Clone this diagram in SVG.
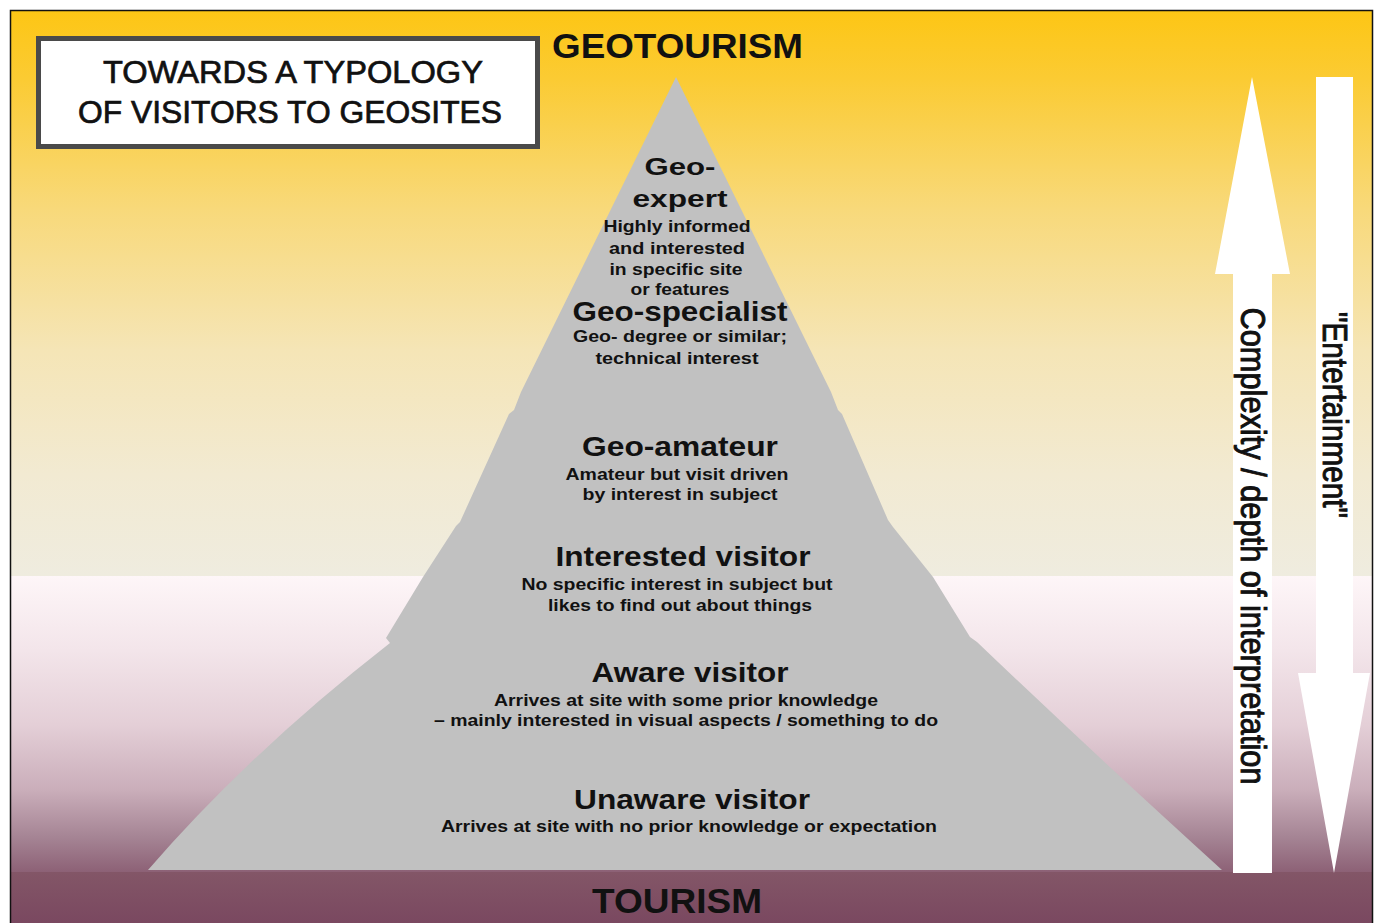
<svg xmlns="http://www.w3.org/2000/svg" width="1379" height="923" viewBox="0 0 1379 923">
<defs>
<linearGradient id="gTop" x1="0" y1="0" x2="0" y2="1">
<stop offset="0" stop-color="#FDC615"/>
<stop offset="0.12" stop-color="#FBCB33"/>
<stop offset="0.35" stop-color="#F8D97A"/>
<stop offset="0.6" stop-color="#F5E5B6"/>
<stop offset="0.82" stop-color="#F2EAD2"/>
<stop offset="1" stop-color="#EFECDF"/>
</linearGradient>
<linearGradient id="gBot" x1="0" y1="0" x2="0" y2="1">
<stop offset="0" stop-color="#FEF6F8"/>
<stop offset="0.25" stop-color="#F3E5EA"/>
<stop offset="0.5" stop-color="#E4CFD7"/>
<stop offset="0.72" stop-color="#CAAEBA"/>
<stop offset="0.88" stop-color="#A58494"/>
<stop offset="1" stop-color="#8C6075"/>
</linearGradient>
<linearGradient id="gBand" x1="0" y1="0" x2="0" y2="1">
<stop offset="0" stop-color="#835667"/>
<stop offset="1" stop-color="#7A4860"/>
</linearGradient>
<style>
.h{font-family:"Liberation Sans",Arial,sans-serif;font-weight:bold;fill:#111;text-anchor:middle}
.t{font-family:"Liberation Sans",Arial,sans-serif;font-weight:normal;font-size:31px;fill:#111;stroke:#111;stroke-width:0.7;text-anchor:middle}
.s{font-family:"Liberation Sans",Arial,sans-serif;font-weight:bold;font-size:16px;fill:#111;text-anchor:middle}
.hd{font-size:27px}
.rot{font-family:"Liberation Sans",Arial,sans-serif;font-size:29px;fill:#111;stroke:#111;stroke-width:0.8;text-anchor:middle}
</style>
</defs>
<rect x="0" y="0" width="1379" height="923" fill="#ffffff"/>
<g id="background">
<rect x="11" y="11" width="1361" height="565" fill="url(#gTop)"/>
<rect x="11" y="576" width="1361" height="297" fill="url(#gBot)"/>
<rect x="11" y="872" width="1361" height="51" fill="url(#gBand)"/>
<rect x="10.5" y="10.5" width="1362" height="920" fill="none" stroke="#111" stroke-width="1.5"/>
</g>
<g id="title">
<rect x="38.5" y="38.5" width="499" height="108" fill="#ffffff" stroke="#4a4a4a" stroke-width="5"/>
<text class="t" x="293" y="83" textLength="380" lengthAdjust="spacingAndGlyphs">TOWARDS A TYPOLOGY</text>
<text class="t" x="290" y="123" textLength="424" lengthAdjust="spacingAndGlyphs">OF VISITORS TO GEOSITES</text>
</g>
<g id="geotourism">
<text class="h" x="677.5" y="58" font-size="35" textLength="251" lengthAdjust="spacingAndGlyphs">GEOTOURISM</text>
</g>
<g id="tourism">
<text class="h" x="677" y="913" font-size="35" textLength="170" lengthAdjust="spacingAndGlyphs">TOURISM</text>
</g>
<g id="pyramid">
<path fill="#C1C1C1" d="M676,77 L521,392 L514,410 L509,414 L460,522 L456,526 L423,577 L386,638 L390,643 Q250,752 148,870 L1222,870 Q1090,750 977,642 L970,637 L933,577 L893,527 L888,520 L842,414 L838,410 L831,392 Z"/>
</g>
<g id="geo-expert">
<text class="h" x="680" y="175" font-size="24" textLength="71" lengthAdjust="spacingAndGlyphs">Geo-</text>
<text class="h" x="680" y="207" font-size="24" textLength="95" lengthAdjust="spacingAndGlyphs">expert</text>
<text class="s" x="677" y="232" textLength="147" lengthAdjust="spacingAndGlyphs">Highly informed</text>
<text class="s" x="677" y="254" textLength="136" lengthAdjust="spacingAndGlyphs">and interested</text>
<text class="s" x="676" y="275" textLength="133" lengthAdjust="spacingAndGlyphs">in specific site</text>
<text class="s" x="680" y="295" textLength="99" lengthAdjust="spacingAndGlyphs">or features</text>
</g>
<g id="geo-specialist">
<text class="h hd" x="680" y="321" textLength="215" lengthAdjust="spacingAndGlyphs">Geo-specialist</text>
<text class="s" x="680" y="342" textLength="214" lengthAdjust="spacingAndGlyphs">Geo- degree or similar;</text>
<text class="s" x="677" y="364" textLength="163" lengthAdjust="spacingAndGlyphs">technical interest</text>
</g>
<g id="geo-amateur">
<text class="h hd" x="680" y="456" textLength="196" lengthAdjust="spacingAndGlyphs">Geo-amateur</text>
<text class="s" x="677" y="480" textLength="223" lengthAdjust="spacingAndGlyphs">Amateur but visit driven</text>
<text class="s" x="680" y="500" textLength="195" lengthAdjust="spacingAndGlyphs">by interest in subject</text>
</g>
<g id="interested-visitor">
<text class="h hd" x="683" y="566" textLength="255" lengthAdjust="spacingAndGlyphs">Interested visitor</text>
<text class="s" x="677" y="590" textLength="311" lengthAdjust="spacingAndGlyphs">No specific interest in subject but</text>
<text class="s" x="680" y="611" textLength="264" lengthAdjust="spacingAndGlyphs">likes to find out about things</text>
</g>
<g id="aware-visitor">
<text class="h hd" x="690" y="682" textLength="197" lengthAdjust="spacingAndGlyphs">Aware visitor</text>
<text class="s" x="686" y="706" textLength="384" lengthAdjust="spacingAndGlyphs">Arrives at site with some prior knowledge</text>
<text class="s" x="686" y="726" textLength="504" lengthAdjust="spacingAndGlyphs">– mainly interested in visual aspects / something to do</text>
</g>
<g id="unaware-visitor">
<text class="h hd" x="692" y="809" textLength="236" lengthAdjust="spacingAndGlyphs">Unaware visitor</text>
<text class="s" x="689" y="832" textLength="496" lengthAdjust="spacingAndGlyphs">Arrives at site with no prior knowledge or expectation</text>
</g>
<g id="connectors">
<g id="complexity-arrow">
<polygon fill="#ffffff" points="1252,77 1290,274 1272,274 1272,873 1233,873 1233,274 1215,274"/>
<text class="rot" transform="translate(1241,546) scale(1.2,1) rotate(90)" textLength="477" lengthAdjust="spacingAndGlyphs">Complexity / depth of interpretation</text>
</g>
<g id="entertainment-arrow">
<polygon fill="#ffffff" points="1316,77 1353,77 1353,673 1370,673 1334,873 1298,673 1316,673"/>
<text class="rot" transform="translate(1323,415) scale(1.2,1) rotate(90)" textLength="206" lengthAdjust="spacingAndGlyphs">"Entertainment"</text>
</g>
</g>
</svg>
